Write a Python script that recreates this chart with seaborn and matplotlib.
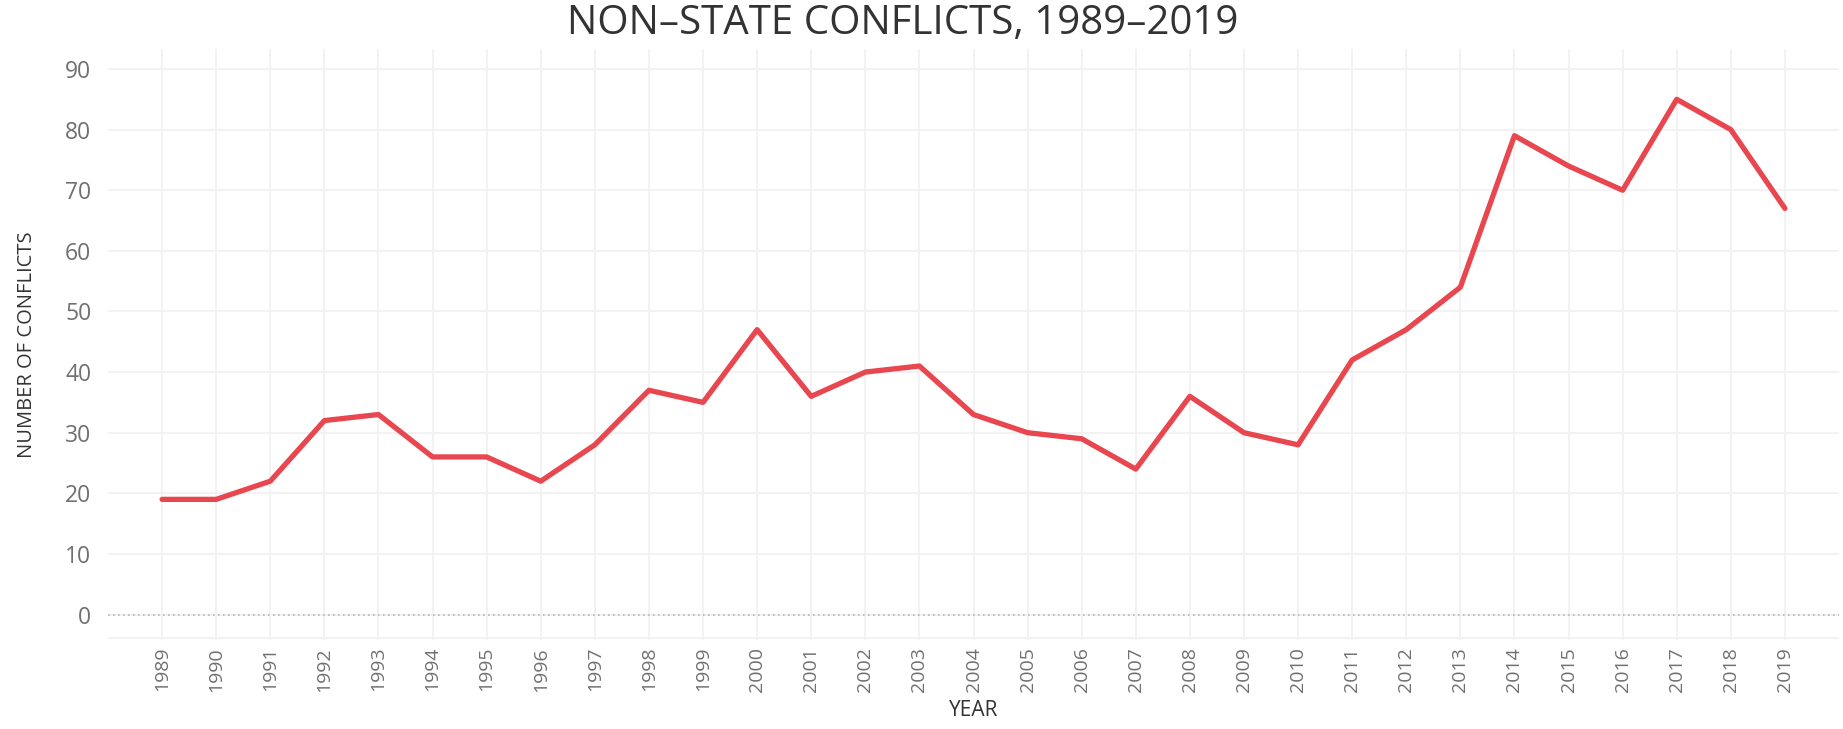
import matplotlib
matplotlib.use("Agg")
import matplotlib.pyplot as plt
import seaborn as sns
import pandas as pd

years = list(range(1989, 2020))
conflicts = [19, 19, 22, 32, 33, 26, 26, 22, 28, 37, 35, 47, 36, 40, 41, 33,
             30, 29, 24, 36, 30, 28, 42, 47, 54, 79, 74, 70, 85, 80, 67]
y_ticks = [0, 10, 20, 30, 40, 50, 60, 70, 80, 90]

df = pd.DataFrame({"year": years, "conflicts": conflicts})

sns.set_theme(style="white")
plt.rcParams['font.family'] = ['Open Sans', 'DejaVu Sans']

fig = plt.figure(figsize=(18.43, 7.29), dpi=100)
ax = fig.add_axes([108/1843, 1 - 640/729, (1839-108)/1843, (640-49)/729])

sns.lineplot(data=df, x="year", y="conflicts", ax=ax, color="#e8474f",
             linewidth=3.8, zorder=3)

ax.set_xlim(1988, 2020)
ax.set_ylim(-4.2, 93.3)
ax.set_xticks(years)
ax.set_xticklabels([str(y) for y in years], rotation=90, fontsize=14,
                   color="#707070")
ax.set_yticks(y_ticks)
ax.set_yticklabels([str(v) for v in y_ticks], fontsize=16.5, color="#707070")
ax.tick_params(axis='x', length=0, pad=5)
ax.tick_params(axis='y', length=0, pad=12)

ax.grid(True, color="#f2f2f2", linewidth=1.4, zorder=0)
ax.axhline(0, color="#b5b5b5", linestyle=(0, (1, 2)), linewidth=1.2, zorder=1)
ax.axhline(-3.9, color="#f2f2f2", linewidth=1.4, zorder=0)
for s in ax.spines.values():
    s.set_visible(False)

ax.set_xlabel("YEAR", fontsize=15, color="#333333", labelpad=6)
ax.set_ylabel("NUMBER OF CONFLICTS", fontsize=14.5, color="#333333",
              family=['Liberation Sans Narrow', 'Open Sans', 'DejaVu Sans'], labelpad=20)

fig.suptitle("NON\u2013STATE CONFLICTS, 1989\u20132019", x=0.49, y=0.995,
             fontsize=29, color="#333333", va="top")

fig.savefig("out.png", dpi=100, facecolor="white")
